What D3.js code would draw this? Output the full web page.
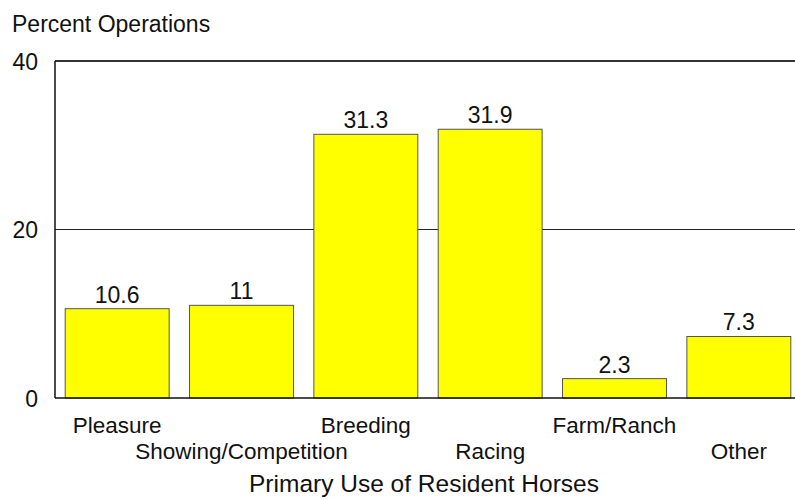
<!DOCTYPE html>
<html>
<head>
<meta charset="utf-8">
<script src="https://cdn.jsdelivr.net/npm/d3@7"></script>
<style>
  body { margin: 0; background: #fff; }
  text { font-family: "Liberation Sans", Arial, sans-serif; fill: #111; }
</style>
</head>
<body>
<div id="container"></div>
<script>
var categories = ['Pleasure', 'Showing/Competition', 'Breeding', 'Racing', 'Farm/Ranch', 'Other'];
var percents = [10.6, 11, 31.3, 31.9, 2.3, 7.3];
var yTicks = [0, 20, 40];

var width = 795,
	height = 500;

var svg = d3.select('#container').append('svg')
			.attr('width', width)
			.attr('height', height);

var xScale = d3.scaleBand()
			.domain(categories)
			.range([55, 801])
			.paddingInner(0.164)
			.paddingOuter(0.082);

var yScale = d3.scaleLinear()
			.domain([0, 40])
			.range([398, 61]);

function label(x, y, txt, size, anchor) {
	return svg.append('text')
		.attr('x', x)
		.attr('y', y)
		.attr('text-anchor', anchor || 'middle')
		.style('font-size', size + 'px')
		.text(txt);
}

// grid lines
svg.selectAll('line.grid')
	.data(yTicks.filter(function(d) { return d > 0; }))
	.enter()
		.append('line')
		.attr('class', 'grid')
		.attr('x1', 55)
		.attr('x2', width)
		.attr('y1', function(d) { return yScale(d); })
		.attr('y2', function(d) { return yScale(d); })
		.attr('stroke', function(d) { return d === 40 ? '#333' : '#222'; })
		.attr('stroke-width', function(d) { return d === 40 ? 2 : 1; });

// bars
svg.selectAll('rect')
	.data(percents)
	.enter()
		.append('rect')
		.attr('x', function(d, i) { return xScale(categories[i]); })
		.attr('y', function(d) { return yScale(d); })
		.attr('width', xScale.bandwidth())
		.attr('height', function(d) { return yScale(0) - yScale(d); })
		.attr('fill', '#ffff00')
		.attr('stroke', '#555')
		.attr('stroke-width', 1);

// axis lines
svg.append('line')
	.attr('x1', 55).attr('x2', 55)
	.attr('y1', yScale(40)).attr('y2', yScale(0))
	.attr('stroke', '#111').attr('stroke-width', 1.5);
svg.append('line')
	.attr('x1', 55).attr('x2', width)
	.attr('y1', yScale(0)).attr('y2', yScale(0))
	.attr('stroke', '#111').attr('stroke-width', 1.5);

// value labels
percents.forEach(function(d, i) {
	label(xScale(categories[i]) + xScale.bandwidth() / 2, yScale(d) - 6, d, 23);
});

// y ticks
yTicks.forEach(function(t) {
	label(38, yScale(t) + 8.5, t, 23, 'end');
});

// category labels on two rows
categories.forEach(function(c, i) {
	label(xScale(c) + xScale.bandwidth() / 2, i % 2 === 0 ? 433 : 459, c, 22.5);
});

label(12, 32, 'Percent Operations', 23, 'start');
label(424, 492, 'Primary Use of Resident Horses', 24.5);
</script>
</body>
</html>
